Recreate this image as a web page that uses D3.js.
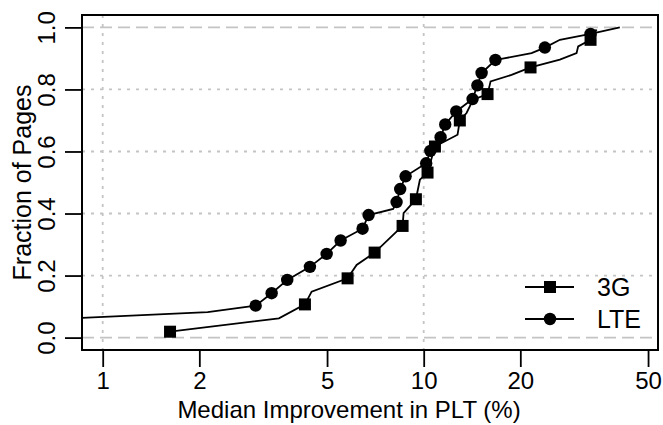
<!DOCTYPE html>
<html>
<head>
<meta charset="utf-8">
<script src="https://cdn.jsdelivr.net/npm/d3@7"></script>
<style>
  body { margin: 0; background: #fff; }
  svg { font-family: "Liberation Sans", Arial, sans-serif; }
</style>
</head>
<body>
<div id="chart"></div>
<script>
// CDF of median PLT improvement
const xTicks = [1, 2, 5, 10, 20, 50];
const yTicks = [0, 0.2, 0.4, 0.6, 0.8, 1.0];

const g3X = [1.621, 3.54, 4.266, 4.476, 5.794, 6.18, 7.033, 8.595, 8.657, 9.456, 9.732, 10.28, 10.84,
  12.75, 12.96, 13.6, 14.26, 15.81, 16.16, 18.78, 21.52, 26.56, 29.94, 30.29, 33.1, 34.56];
const g3Y = [0.019, 0.062, 0.107, 0.148, 0.191, 0.234, 0.274, 0.36, 0.401, 0.446, 0.509, 0.532, 0.616,
  0.654, 0.7, 0.724, 0.767, 0.785, 0.826, 0.847, 0.871, 0.896, 0.917, 0.939, 0.96, 0.993];
const g3Marks = [0, 2, 4, 6, 7, 9, 11, 12, 14, 17, 20, 24];

const lteX = [0.8, 2.123, 2.996, 3.36, 3.757, 4.422, 4.985, 5.511, 6.451, 6.735, 8.035, 8.233, 8.449, 8.783,
  10.18, 10.49, 11.29, 11.67, 12.63, 14.2, 14.7, 15.15, 16.73, 21.68, 23.85, 26.56, 33.1, 40.83];
const lteY = [0.062, 0.082, 0.103, 0.143, 0.186, 0.228, 0.27, 0.313, 0.351, 0.395, 0.415, 0.437, 0.479, 0.52,
  0.562, 0.602, 0.646, 0.687, 0.729, 0.769, 0.813, 0.853, 0.895, 0.917, 0.935, 0.96, 0.979, 1.0];
const lteMarks = [2, 3, 4, 5, 6, 7, 8, 9, 11, 12, 13, 14, 15, 16, 17, 18, 19, 20, 21, 22, 24, 26];

const W = 663, H = 425;
const box = { left: 82, right: 658, top: 15, bottom: 350 };

const svg = d3.select('#chart').append('svg')
  .attr('width', W).attr('height', H);

const x = d3.scaleLog().domain([0.862, 53.7]).range([box.left, box.right]);
const y = d3.scaleLinear().domain([-0.04, 1.04]).range([box.bottom, box.top]);

svg.append('clipPath').attr('id', 'clip')
  .append('rect')
  .attr('x', box.left).attr('y', box.top)
  .attr('width', box.right - box.left).attr('height', box.bottom - box.top);

// grid
const grid = svg.append('g').attr('stroke', '#c4c4c4').attr('stroke-width', 1.8);
grid.selectAll('.hg').data(yTicks).join('line')
  .attr('x1', box.left).attr('x2', box.right)
  .attr('y1', d => y(d)).attr('y2', d => y(d))
  .attr('stroke-dasharray', d => (d === 0 || d === 1) ? '12,6' : '3,6');
grid.selectAll('.vg').data([1, 10]).join('line')
  .attr('y1', box.top).attr('y2', box.bottom)
  .attr('x1', d => x(d)).attr('x2', d => x(d))
  .attr('stroke-dasharray', '3,6');

// axes
const xAxis = d3.axisBottom(x).tickValues(xTicks).tickFormat(d3.format('d'))
  .tickSize(17).tickPadding(5);
const gx = svg.append('g').attr('transform', `translate(0,${box.bottom})`).call(xAxis);
gx.select('.domain').remove();
gx.selectAll('line').attr('stroke', '#000').attr('stroke-width', 1.8);
gx.selectAll('text').attr('font-size', 24).attr('fill', '#000');

const yAxis = d3.axisLeft(y).tickValues(yTicks).tickFormat(d3.format('.1f'))
  .tickSize(17).tickPadding(6);
const gy = svg.append('g').attr('transform', `translate(${box.left},0)`).call(yAxis);
gy.select('.domain').remove();
gy.selectAll('line').attr('stroke', '#000').attr('stroke-width', 1.8);
gy.selectAll('text')
  .attr('font-size', 24).attr('fill', '#000')
  .attr('x', null).attr('dy', '0.35em')
  .attr('text-anchor', 'middle')
  .attr('transform', 'translate(-35,0) rotate(-90)');

// box
svg.append('rect')
  .attr('x', box.left).attr('y', box.top)
  .attr('width', box.right - box.left).attr('height', box.bottom - box.top)
  .attr('fill', 'none').attr('stroke', '#000').attr('stroke-width', 2);

// titles
svg.append('text')
  .attr('x', 349).attr('y', 418)
  .attr('text-anchor', 'middle').attr('font-size', 24)
  .text('Median Improvement in PLT (%)');
svg.append('text')
  .attr('transform', `translate(31,${(box.top + box.bottom) / 2}) rotate(-90)`)
  .attr('text-anchor', 'middle').attr('font-size', 25)
  .text('Fraction of Pages');

// series
const line = d3.line().x(d => x(d[0])).y(d => y(d[1]));
const g3 = g3X.map((v, i) => [v, g3Y[i]]);
const lte = lteX.map((v, i) => [v, lteY[i]]);

const plot = svg.append('g').attr('clip-path', 'url(#clip)');
plot.append('path').datum(g3).attr('d', line)
  .attr('fill', 'none').attr('stroke', '#000').attr('stroke-width', 1.8);
plot.append('path').datum(lte).attr('d', line)
  .attr('fill', 'none').attr('stroke', '#000').attr('stroke-width', 1.8);

const sq = 12;
plot.selectAll('.sq').data(g3Marks.map(i => g3[i])).join('rect')
  .attr('x', d => x(d[0]) - sq / 2).attr('y', d => y(d[1]) - sq / 2)
  .attr('width', sq).attr('height', sq).attr('fill', '#000');
plot.selectAll('.ci').data(lteMarks.map(i => lte[i])).join('circle')
  .attr('cx', d => x(d[0])).attr('cy', d => y(d[1]))
  .attr('r', 6.2).attr('fill', '#000');

// legend
const leg = svg.append('g');
const legItems = [
  { name: '3G', shape: 'square', ly: 287 },
  { name: 'LTE', shape: 'circle', ly: 319 }
];
legItems.forEach(it => {
  leg.append('line').attr('x1', 525).attr('x2', 574).attr('y1', it.ly).attr('y2', it.ly)
    .attr('stroke', '#000').attr('stroke-width', 1.8);
  if (it.shape === 'square') {
    leg.append('rect').attr('x', 550 - sq / 2).attr('y', it.ly - sq / 2)
      .attr('width', sq).attr('height', sq).attr('fill', '#000');
  } else {
    leg.append('circle').attr('cx', 550).attr('cy', it.ly).attr('r', 6.2).attr('fill', '#000');
  }
  leg.append('text').attr('x', 597).attr('y', it.ly).attr('dy', '0.36em')
    .attr('font-size', 25).text(it.name);
});
</script>
</body>
</html>
